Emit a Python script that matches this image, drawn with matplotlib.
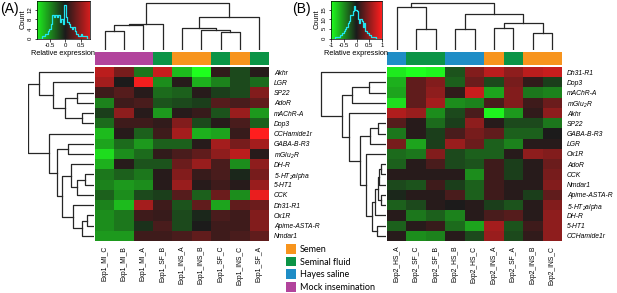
import numpy as np
import matplotlib.pyplot as plt
from matplotlib import font_manager
from matplotlib.colors import LinearSegmentedColormap, ListedColormap, Normalize
from matplotlib.patches import Patch

installed = {f.name for f in font_manager.fontManager.ttflist}
if 'Liberation Sans Narrow' in installed:
    LABEL_FONT, LABEL_SIZE = 'Liberation Sans Narrow', 5.8
else:
    LABEL_FONT, LABEL_SIZE = 'Liberation Sans', 4.9

plt.rcParams['font.family'] = ['Liberation Sans', 'DejaVu Sans']
plt.rcParams['mathtext.fontset'] = 'custom'
plt.rcParams['mathtext.rm'] = LABEL_FONT + ':italic'
plt.rcParams['mathtext.it'] = LABEL_FONT + ':italic'

# ---------------- data ----------------
group_names = ['Semen', 'Seminal fluid', 'Hayes saline', 'Mock insemination']
group_colors = ['#f7941d', '#0b9446', '#1f8dc6', '#b2449c']

rows_a = ['Akhr', 'LGR', 'SP22', 'AdoR', 'mAChR-A', 'Dop3', 'CCHamide1r', 'GABA-B-R3',
          r'mGlu$_2$R', 'DH-R', r'5-HT$_2$alpha', '5-HT1', 'CCK', 'Dh31-R1', 'Ox1R',
          'Apime-ASTA-R', 'Nmdar1']
cols_a = ['Exp1_MI_C', 'Exp1_MI_B', 'Exp1_MI_A', 'Exp1_SF_B', 'Exp1_INS_A',
          'Exp1_INS_B', 'Exp1_SF_C', 'Exp1_INS_C', 'Exp1_SF_A']
groups_a = [3, 3, 3, 1, 0, 0, 1, 0, 1]
vals_a = np.array([
    [0.7, 0.4, -0.4, 0.75, -0.7, -1.0, 0.1, -0.2, 0.05],
    [0.6, 0.0, 0.95, -0.5, 0.05, -0.65, -0.45, -0.2, -0.35],
    [0.15, 0.25, 0.05, -0.35, -0.3, 0.05, -0.15, -0.2, 0.45],
    [-0.45, 0.15, 0.2, -0.25, -0.2, -0.15, 0.25, 0.2, 0.3],
    [-0.15, 0.5, 0.05, -0.55, 0.05, 0.12, -0.25, 0.55, -0.55],
    [-0.35, 0.15, 0.15, 0.1, 0.45, -0.2, 0.05, 0.2, -0.3],
    [-0.7, 0.05, -0.3, 0.15, 0.6, -0.65, -0.6, 0.12, 1.0],
    [-0.6, -0.35, -0.55, -0.3, -0.3, 0.05, 0.6, 0.4, 0.6],
    [-0.85, -0.5, -0.35, 0.1, 0.2, 0.3, 0.5, 0.7, 0.05],
    [-0.65, 0.05, -0.25, -0.25, 0.35, 0.55, 0.2, -0.5, 0.5],
    [-0.4, -0.3, -0.4, 0.05, 0.45, 0.12, 0.2, -0.05, 0.4],
    [-0.45, -0.55, -0.5, 0.05, 0.55, 0.05, 0.15, 0.05, 0.55],
    [-0.3, -0.5, -0.2, -0.15, 0.25, -0.3, 0.35, -0.5, 0.9],
    [-0.45, -0.7, 0.6, 0.15, -0.25, 0.3, -0.6, 0.3, 0.35],
    [-0.5, -0.4, 0.15, 0.12, -0.2, -0.05, 0.2, 0.15, 0.45],
    [-0.5, -0.4, -0.1, 0.2, -0.2, 0.0, 0.15, 0.15, 0.45],
    [-0.55, -0.55, 0.15, 0.15, 0.2, 0.3, 0.15, 0.2, 0.3],
])

rows_b = ['Dh31-R1', 'Dop3', 'mAChR-A', r'mGlu$_2$R', 'Akhr', 'SP22', 'GABA-B-R3', 'LGR',
          'Ox1R', 'AdoR', 'CCK', 'Nmdar1', 'Apime-ASTA-R', r'5-HT$_2$alpha', 'DH-R',
          '5-HT1', 'CCHamide1r']
cols_b = ['Exp2_HS_A', 'Exp2_SF_C', 'Exp2_SF_B', 'Exp2_HS_B', 'Exp2_HS_C',
          'Exp2_INS_A', 'Exp2_SF_A', 'Exp2_INS_B', 'Exp2_INS_C']
groups_b = [2, 1, 1, 2, 2, 0, 1, 0, 0]
vals_b = np.array([
    [-0.9, -1.0, -0.95, -0.25, 0.45, 0.7, 0.5, 0.7, 0.75],
    [-0.65, 0.3, 0.45, -0.3, 0.35, -0.2, 0.4, 0.1, -0.15],
    [-0.6, 0.3, 0.5, 0.1, 0.75, -0.6, 0.45, -0.4, -0.45],
    [-0.85, 0.3, 0.6, -0.5, -0.45, 0.2, 0.45, 0.15, 0.35],
    [0.65, 0.55, -0.5, -0.2, 0.2, -0.95, -0.55, 0.1, 0.5],
    [0.25, 0.05, -0.35, -0.15, 0.5, 0.05, -0.2, -0.2, -0.4],
    [-0.4, 0.05, -0.15, 0.2, 0.4, 0.3, -0.3, -0.3, 0.0],
    [0.4, -0.6, -0.15, 0.55, 0.35, -0.3, -0.45, 0.05, 0.05],
    [-0.35, -0.4, 0.45, -0.2, -0.3, -0.3, 0.05, 0.5, 0.45],
    [-0.3, 0.05, 0.2, -0.2, -0.25, 0.15, -0.15, 0.05, 0.35],
    [0.05, 0.05, 0.05, 0.05, -0.5, 0.15, -0.15, 0.05, 0.4],
    [-0.2, -0.25, 0.15, -0.15, -0.3, 0.15, 0.05, 0.05, 0.45],
    [-0.05, 0.05, 0.05, 0.2, -0.3, 0.15, 0.05, -0.15, 0.3],
    [-0.3, -0.2, 0.05, 0.0, 0.05, -0.15, -0.25, 0.05, 0.45],
    [0.05, -0.4, -0.3, -0.45, 0.05, 0.2, 0.25, 0.05, 0.5],
    [-0.3, 0.05, 0.12, -0.35, -0.6, 0.6, -0.25, 0.15, 0.5],
    [0.05, -0.5, -0.45, 0.05, -0.2, 0.55, -0.2, 0.1, 0.5],
])

# dendrograms: (left, right, height), leaves are positions in the plotted order
col_tree_a = ((((0, 1, 19.3), 2, 25), 3, 26),
              ((4, (5, (6, 7, 17.7), 20), 21.7), 8, 32.7), 47.3)
col_tree_b = ((0, (1, 2, 20.7), 42.7),
              ((3, 4, 20.7), ((5, 6, 22.3), (7, 8, 16.7), 26.7), 36), 46.7)
row_tree_a = ((0, (1, ((2, 3, 17.3), (4, 5, 12.3), 29), 40.7), 55),
              (6, ((7, 8, 25.7),
                   ((9, ((10, 11, 9), 12, 17.3), 23.3),
                    (13, ((14, 15, 6.7), 16, 12.3), 20.7), 32.3), 36.7), 44.7), 65.7)
row_tree_b = (0, (((1, 2, 16.7), 3, 33.7),
                  (4, (((5, 6, 7.7), 7, 16),
                       (8, (((((9, 10, 5.3), 11, 7), (12, 13, 5), 8.3), 14, 11),
                            (15, 16, 9.3), 14.3), 20), 26), 36.7), 43.7), 65)

hist_a_range = (-0.92, 0.81)
hist_a_counts = [0, 0, 0, 1, 1, 2, 2, 3, 4, 6, 10, 9, 10, 9, 10, 7, 8, 6, 14, 9,
                 7, 6, 5, 4, 5, 3, 2, 1, 1, 2, 1, 1, 1, 0, 0]
hist_b_range = (-1.0, 1.0)
hist_b_counts = [0, 0, 0, 1, 1, 1, 1, 2, 2, 3, 4, 5, 6, 8, 9, 12, 12, 14, 17, 15,
                 14, 10, 8, 10, 9, 6, 8, 4, 3, 3, 2, 1, 1, 1, 1, 0, 0, 0, 0, 0]

# ---------------- drawing ----------------
W, H = 617, 293
cmap = LinearSegmentedColormap.from_list('gbr', ['#1eff1e', '#1b1b1b', '#ff1e1e'])
norm = Normalize(-1, 1)
side_cmap = ListedColormap(group_colors)
LINE = '#262626'

fig = plt.figure(figsize=(W / 100, H / 100), dpi=100)


def box(x0, y0, x1, y1):
    return [x0 / W, 1 - y1 / H, (x1 - x0) / W, (y1 - y0) / H]


def draw_tree(ax, node, orient):
    if isinstance(node, int):
        return node + 0.5, 0.0
    left, right, h = node
    p1, h1 = draw_tree(ax, left, orient)
    p2, h2 = draw_tree(ax, right, orient)
    if orient == 'top':
        ax.plot([p1, p1, p2, p2], [h1, h, h, h2], color=LINE, lw=0.9)
    else:
        ax.plot([h1, h, h, h2], [p1, p1, p2, p2], color=LINE, lw=0.9)
    return (p1 + p2) / 2, h


def panel(x0, x1, rd_left, key, vals, rows, cols, groups, col_tree, row_tree,
          hrange, counts, key_ticks, key_yticks, key_ylim, tag, tag_x):
    nr, nc = vals.shape
    ax = fig.add_axes(box(x0, 67, x1, 241))
    ax.pcolormesh(np.arange(nc + 1), np.arange(nr + 1), vals, cmap=cmap, norm=norm)
    ax.set_xlim(0, nc)
    ax.set_ylim(nr, 0)
    ax.yaxis.tick_right()
    ax.set_yticks(np.arange(nr) + 0.5)
    ax.set_yticklabels(rows, fontsize=LABEL_SIZE, style='italic', family=LABEL_FONT)
    ax.set_xticks(np.arange(nc) + 0.5)
    ax.set_xticklabels(cols, rotation=90, fontsize=LABEL_SIZE, family=LABEL_FONT)
    ax.tick_params(length=0, pad=3.5)
    for s in ax.spines.values():
        s.set_visible(False)

    axs = fig.add_axes(box(x0, 52, x1, 65))
    axs.pcolormesh(np.arange(nc + 1), [0, 1], np.array([groups]), cmap=side_cmap,
                   vmin=-0.5, vmax=3.5)
    axs.set_xlim(0, nc)
    axs.axis('off')

    axc = fig.add_axes(box(x0, 2, x1, 50))
    draw_tree(axc, col_tree, 'top')
    axc.set_xlim(0, nc)
    axc.set_ylim(0, 48)
    axc.axis('off')

    axr = fig.add_axes(box(rd_left, 67, x0 - 1, 241))
    draw_tree(axr, row_tree, 'left')
    axr.set_ylim(nr, 0)
    axr.set_xlim(x0 - 1 - rd_left, 0)
    axr.axis('off')

    # colour key
    kx0, kx1 = key
    axk = fig.add_axes(box(kx0, 0.5, kx1, 38.5))
    grad = np.linspace(hrange[0], hrange[1], 200)[None, :]
    axk.imshow(grad, cmap=cmap, norm=norm, aspect='auto',
               extent=(hrange[0], hrange[1], 0, key_ylim))
    edges = np.linspace(hrange[0], hrange[1], len(counts) + 1)
    axk.step(edges, np.r_[counts[0], counts], where='pre', color='#22e5f0', lw=0.9)
    axk.set_xlim(*hrange)
    axk.set_ylim(0, key_ylim)
    axk.set_xticks(key_ticks)
    axk.set_xticklabels([f'{t:g}' for t in key_ticks], fontsize=4.3)
    axk.set_yticks(key_yticks)
    axk.set_yticklabels([str(t) for t in key_yticks], fontsize=4.3, rotation=90,
                        va='center')
    axk.tick_params(length=1.8, width=0.5, pad=1.2)
    for s in axk.spines.values():
        s.set_linewidth(0.5)
    axk.set_xlabel('Relative expression', fontsize=5.3, labelpad=1.5)
    axk.set_ylabel('Count', fontsize=5.3, labelpad=1.2)

    fig.text(tag_x / W, 1 - 9 / H, tag, fontsize=10, va='center', ha='left')


panel(95, 269, 27.5, (37, 90), vals_a, rows_a, cols_a, groups_a, col_tree_a, row_tree_a,
      hist_a_range, hist_a_counts, [-0.5, 0, 0.5], [0, 4, 8, 12], 15.9, '(A)', 0)
panel(387, 562, 320, (331, 382), vals_b, rows_b, cols_b, groups_b, col_tree_b, row_tree_b,
      hist_b_range, hist_b_counts, [-1, -0.5, 0, 0.5, 1], [0, 5, 10, 15], 19.7, '(B)', 292)

handles = [Patch(facecolor=c, edgecolor='none') for c in group_colors]
fig.legend(handles, group_names, loc='upper left', bbox_to_anchor=(286 / W, 1 - 244 / H),
           frameon=False, handlelength=1.1, handleheight=1.3,
           labelspacing=0.3, handletextpad=0.4, borderaxespad=0, borderpad=0,
           prop={'family': 'Lato', 'size': 6.5})

fig.savefig('out.png', dpi=100)
